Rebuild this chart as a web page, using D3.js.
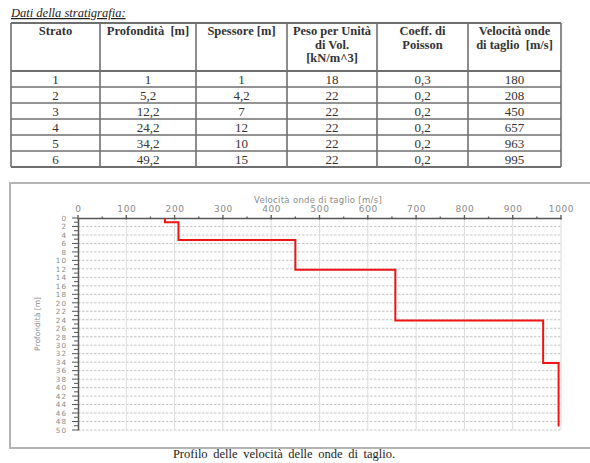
<!DOCTYPE html>
<html>
<head>
<meta charset="utf-8">
<script src="https://cdn.jsdelivr.net/npm/d3@7"></script>
<style>
  html, body { margin: 0; padding: 0; background: #fff; }
  svg { display: block; }
  text.pre { white-space: pre; }
</style>
</head>
<body>
<svg id="page" width="590" height="463"></svg>
<script>
// Stratigraphy data
const strato     = ["1", "2", "3", "4", "5", "6"];
const profondita = [1, 5.2, 12.2, 24.2, 34.2, 49.2];
const spessore   = [1, 4.2, 7, 12, 10, 15];
const peso       = [18, 22, 22, 22, 22, 22];
const poisson    = [0.3, 0.2, 0.2, 0.2, 0.2, 0.2];
const velocita   = [180, 208, 450, 657, 963, 995];

const headers = [
  ["Strato"],
  ["Profondità  [m]"],
  ["Spessore [m]"],
  ["Peso per Unità", "di Vol.", "[kN/m^3]"],
  ["Coeff. di", "Poisson"],
  ["Velocità onde", "di taglio  [m/s]"]
];

// Axis ticks for the profile plot
const xTicks = [0, 100, 200, 300, 400, 500, 600, 700, 800, 900, 1000];
const yTicks = d3.range(0, 51, 2);

const fmt = v => String(v).replace(".", ",");

const svg = d3.select("#page");
const serif = "'Liberation Serif', 'Times New Roman', serif";
const sans = "'DejaVu Sans', Verdana, sans-serif";

// ---------- Title ----------
svg.append("text")
  .attr("x", 11).attr("y", 17)
  .attr("font-family", serif).attr("font-style", "italic")
  .attr("font-size", 12.5).attr("text-decoration", "underline")
  .attr("fill", "#222")
  .text("Dati della stratigrafia:");

// ---------- Table ----------
const colEdges = [11, 100, 196, 287, 377, 468, 561];
const headTop = 23, headBottom = 71, rowH = 16;
const rowEdges = d3.range(strato.length + 1).map(i => headBottom + i * rowH);

const tbl = svg.append("g");
// horizontal rules
tbl.selectAll("line.h")
  .data([headTop].concat(rowEdges))
  .join("line")
  .attr("x1", colEdges[0]).attr("x2", colEdges[colEdges.length - 1])
  .attr("y1", d => d).attr("y2", d => d)
  .attr("stroke", "#6f6f6f").attr("stroke-width", (d, i) => (i === 0 || i === 1 || i === rowEdges.length) ? 1.8 : 1.4);
// vertical rules
tbl.selectAll("line.v")
  .data(colEdges)
  .join("line")
  .attr("x1", d => d).attr("x2", d => d)
  .attr("y1", headTop).attr("y2", rowEdges[rowEdges.length - 1])
  .attr("stroke", "#6f6f6f").attr("stroke-width", 1.6);

// header text
headers.forEach((lines, c) => {
  const cx = (colEdges[c] + colEdges[c + 1]) / 2;
  lines.forEach((t, k) => {
    tbl.append("text")
      .attr("class", "pre")
      .attr("x", cx).attr("y", 35 + k * 13.5)
      .attr("text-anchor", "middle")
      .attr("font-family", serif).attr("font-weight", "bold")
      .attr("font-size", 12.5).attr("fill", "#333")
      .text(t);
  });
});

// data rows
const columns = [strato, profondita.map(fmt), spessore.map(fmt), peso.map(fmt), poisson.map(fmt), velocita.map(fmt)];
strato.forEach((_, r) => {
  columns.forEach((col, c) => {
    tbl.append("text")
      .attr("x", (colEdges[c] + colEdges[c + 1]) / 2)
      .attr("y", rowEdges[r] + 12.5)
      .attr("text-anchor", "middle")
      .attr("font-family", serif).attr("font-size", 13)
      .attr("fill", "#333")
      .text(col[r]);
  });
});

// ---------- Profile panel ----------
svg.append("rect")
  .attr("x", 10).attr("y", 183).attr("width", 582).attr("height", 265)
  .attr("fill", "#fff").attr("stroke", "#b4b4b4").attr("stroke-width", 2);

const x = d3.scaleLinear().domain([0, 1000]).range([78, 561]);
const y = d3.scaleLinear().domain([0, 50]).range([218, 430]);

const plot = svg.append("g");

// grid
plot.selectAll("line.gy")
  .data(yTicks.filter(d => d > 0))
  .join("line")
  .attr("x1", x(0)).attr("x2", x(1000))
  .attr("y1", d => y(d)).attr("y2", d => y(d))
  .attr("stroke", "#c4c4c4").attr("stroke-width", 1)
  .attr("stroke-dasharray", "2.5,1.5");
plot.selectAll("line.gx")
  .data(xTicks.filter(d => d > 0))
  .join("line")
  .attr("x1", d => x(d)).attr("x2", d => x(d))
  .attr("y1", y(0)).attr("y2", y(50))
  .attr("stroke", "#dcdcdc").attr("stroke-width", 1);

// top axis
const xAxis = d3.axisTop(x).tickValues(xTicks).tickFormat(d3.format("d")).tickSize(0).tickPadding(6);
const gx = plot.append("g").attr("transform", `translate(0,${y(0)})`).call(xAxis);
gx.select(".domain").attr("stroke", "#555").attr("stroke-width", 1.5);
gx.selectAll("text").attr("font-family", sans).attr("font-size", 9)
  .attr("fill", "#8a8a8a").attr("letter-spacing", 0.6);
// major and minor marks on the top axis
plot.selectAll("line.xt")
  .data(d3.range(0, 1001, 50))
  .join("line")
  .attr("x1", d => x(d)).attr("x2", d => x(d))
  .attr("y1", d => y(0) - (d % 100 === 0 ? 3 : 1.5))
  .attr("y2", d => y(0) + (d % 100 === 0 ? 1.5 : 0.5))
  .attr("stroke", "#555").attr("stroke-width", 1.3);

// left axis
const yAxis = d3.axisLeft(y).tickValues(yTicks).tickFormat(d3.format("d")).tickSize(0).tickPadding(11);
const gy = plot.append("g").attr("transform", `translate(${x(0)},0)`).call(yAxis);
gy.select(".domain").attr("stroke", "#555").attr("stroke-width", 1.5);
gy.selectAll("text").attr("font-family", sans).attr("font-size", 7.2)
  .attr("fill", "#8a8a8a").attr("letter-spacing", 1);
plot.selectAll("line.yt")
  .data(d3.range(0, 51, 1))
  .join("line")
  .attr("x1", d => x(0) - (d % 2 === 0 ? 6 : 4)).attr("x2", x(0))
  .attr("y1", d => y(d)).attr("y2", d => y(d))
  .attr("stroke", "#555").attr("stroke-width", 1);

// axis titles
plot.append("text")
  .attr("x", 318).attr("y", 203)
  .attr("text-anchor", "middle")
  .attr("font-family", sans).attr("font-size", 8.5)
  .attr("fill", "#8a8a8a").attr("letter-spacing", 0.3)
  .text("Velocità onde di taglio [m/s]");
plot.append("text")
  .attr("transform", `translate(40,${(y(0) + y(50)) / 2}) rotate(-90)`)
  .attr("text-anchor", "middle")
  .attr("font-family", sans).attr("font-size", 7.5)
  .attr("fill", "#8a8a8a")
  .text("Profondità [m]");

// velocity step profile: each layer spans top = bottom - thickness
const pts = [];
velocita.forEach((v, i) => {
  const top = +(profondita[i] - spessore[i]).toFixed(2);
  pts.push([v, top], [v, profondita[i]]);
});
plot.append("path")
  .datum(pts)
  .attr("fill", "none")
  .attr("stroke", "#f01414")
  .attr("stroke-width", 2)
  .attr("d", d3.line().x(d => x(d[0])).y(d => y(d[1])));

// caption
svg.append("text")
  .attr("x", 284).attr("y", 458)
  .attr("text-anchor", "middle")
  .attr("font-family", serif).attr("font-size", 12.5)
  .attr("word-spacing", 2.5)
  .attr("fill", "#222")
  .text("Profilo delle velocità delle onde di taglio.");
</script>
</body>
</html>
